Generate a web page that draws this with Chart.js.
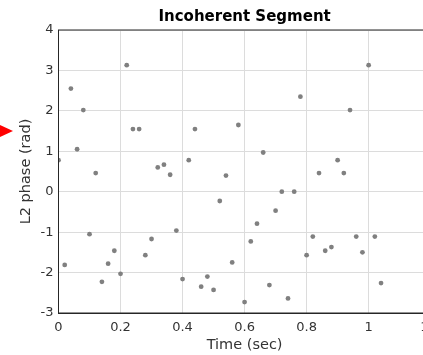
<!DOCTYPE html>
<html>
<head>
<meta charset="utf-8">
<script src="https://cdn.jsdelivr.net/npm/chart.js@4/dist/chart.umd.min.js"></script>
<style>
    html, body { margin: 0; padding: 0; background: #fff; overflow: hidden; }
    #wrap { position: relative; width: 448px; height: 355px; }
</style>
</head>
<body>
<div id="wrap"><canvas id="chart"></canvas></div>
<script>
// time samples (sec) and L2 phase (rad)
const timeSec = [0, 0.02, 0.04, 0.06, 0.08, 0.10, 0.12, 0.14, 0.16, 0.18,
    0.20, 0.22, 0.24, 0.26, 0.28, 0.30, 0.32, 0.34, 0.36, 0.38,
    0.40, 0.42, 0.44, 0.46, 0.48, 0.50, 0.52, 0.54, 0.56, 0.58,
    0.60, 0.62, 0.64, 0.66, 0.68, 0.70, 0.72, 0.74, 0.76, 0.78,
    0.80, 0.82, 0.84, 0.86, 0.88, 0.90, 0.92, 0.94, 0.96, 0.98,
    1.00, 1.02, 1.04];
const phaseRad = [0.78, -1.81, 2.55, 1.05, 2.02, -1.05, 0.46, -2.23, -1.78, -1.46,
    -2.03, 3.13, 1.55, 1.55, -1.57, -1.17, 0.60, 0.67, 0.42, -0.96,
    -2.16, 0.78, 1.55, -2.35, -2.10, -2.43, -0.23, 0.40, -1.75, 1.65,
    -2.73, -1.23, -0.79, 0.97, -2.31, -0.47, 0, -2.64, 0, 2.35,
    -1.57, -1.11, 0.46, -1.46, -1.37, 0.78, 0.46, 2.02, -1.11, -1.50,
    3.13, -1.11, -2.26];
const xTicks = [0, 0.2, 0.4, 0.6, 0.8, 1, 1.2];
const yTicks = [-3, -2, -1, 0, 1, 2, 3, 4];

const FONT = '"DejaVu Sans", sans-serif';
const INK = '#333333';

// box around the plot area plus the red marker on the left
const boxPlugin = {
    id: 'box',
    afterDraw(chart) {
        const { ctx, chartArea: a } = chart;
        ctx.save();
        ctx.strokeStyle = '#262626';
        ctx.lineWidth = 1;
        ctx.strokeRect(a.left, a.top, a.right - a.left, a.bottom - a.top);
        ctx.fillStyle = '#ff0000';
        ctx.beginPath();
        ctx.moveTo(0, 125);
        ctx.lineTo(13, 131);
        ctx.lineTo(0, 137);
        ctx.closePath();
        ctx.fill();
        ctx.restore();
    }
};

new Chart(document.getElementById('chart'), {
    type: 'scatter',
    data: {
        datasets: [{
            data: timeSec.map((t, i) => ({ x: t, y: phaseRad[i] })),
            backgroundColor: '#808080',
            borderColor: '#808080',
            pointRadius: 2.4,
            pointBorderWidth: 0
        }]
    },
    options: {
        responsive: true,
        maintainAspectRatio: false,
        animation: false,
        layout: { padding: 0 },
        plugins: {
            legend: { display: false },
            tooltip: { enabled: false },
            title: {
                display: true,
                fullSize: false,
                text: 'Incoherent Segment',
                color: '#000',
                font: { family: FONT, size: 15, weight: 'bold' },
                padding: { top: 8, bottom: 4 }
            }
        },
        scales: {
            x: {
                type: 'linear',
                min: 0,
                max: 1.2,
                afterBuildTicks: (s) => { s.ticks = xTicks.map(v => ({ value: v })); },
                afterFit: (s) => { s.height = 42; },
                ticks: {
                    color: INK,
                    font: { family: FONT, size: 13 },
                    padding: 7,
                    maxRotation: 0,
                    callback: (v) => String(v)
                },
                grid: { color: '#dcdcdc', drawTicks: false },
                border: { color: '#262626' },
                title: {
                    display: true,
                    text: 'Time (sec)',
                    color: INK,
                    font: { family: FONT, size: 14.5 },
                    padding: { top: 0, bottom: 1 }
                }
            },
            y: {
                min: -3,
                max: 4,
                afterBuildTicks: (s) => { s.ticks = yTicks.map(v => ({ value: v })); },
                afterFit: (s) => { s.width = 58.5; },
                ticks: {
                    color: INK,
                    font: { family: FONT, size: 13 },
                    padding: 5
                },
                grid: { color: '#dcdcdc', drawTicks: false },
                border: { color: '#262626' },
                title: {
                    display: true,
                    text: 'L2 phase (rad)',
                    color: INK,
                    font: { family: FONT, size: 14.5 },
                    padding: { top: 18, bottom: 0 }
                }
            }
        }
    },
    plugins: [boxPlugin]
});
</script>
</body>
</html>
